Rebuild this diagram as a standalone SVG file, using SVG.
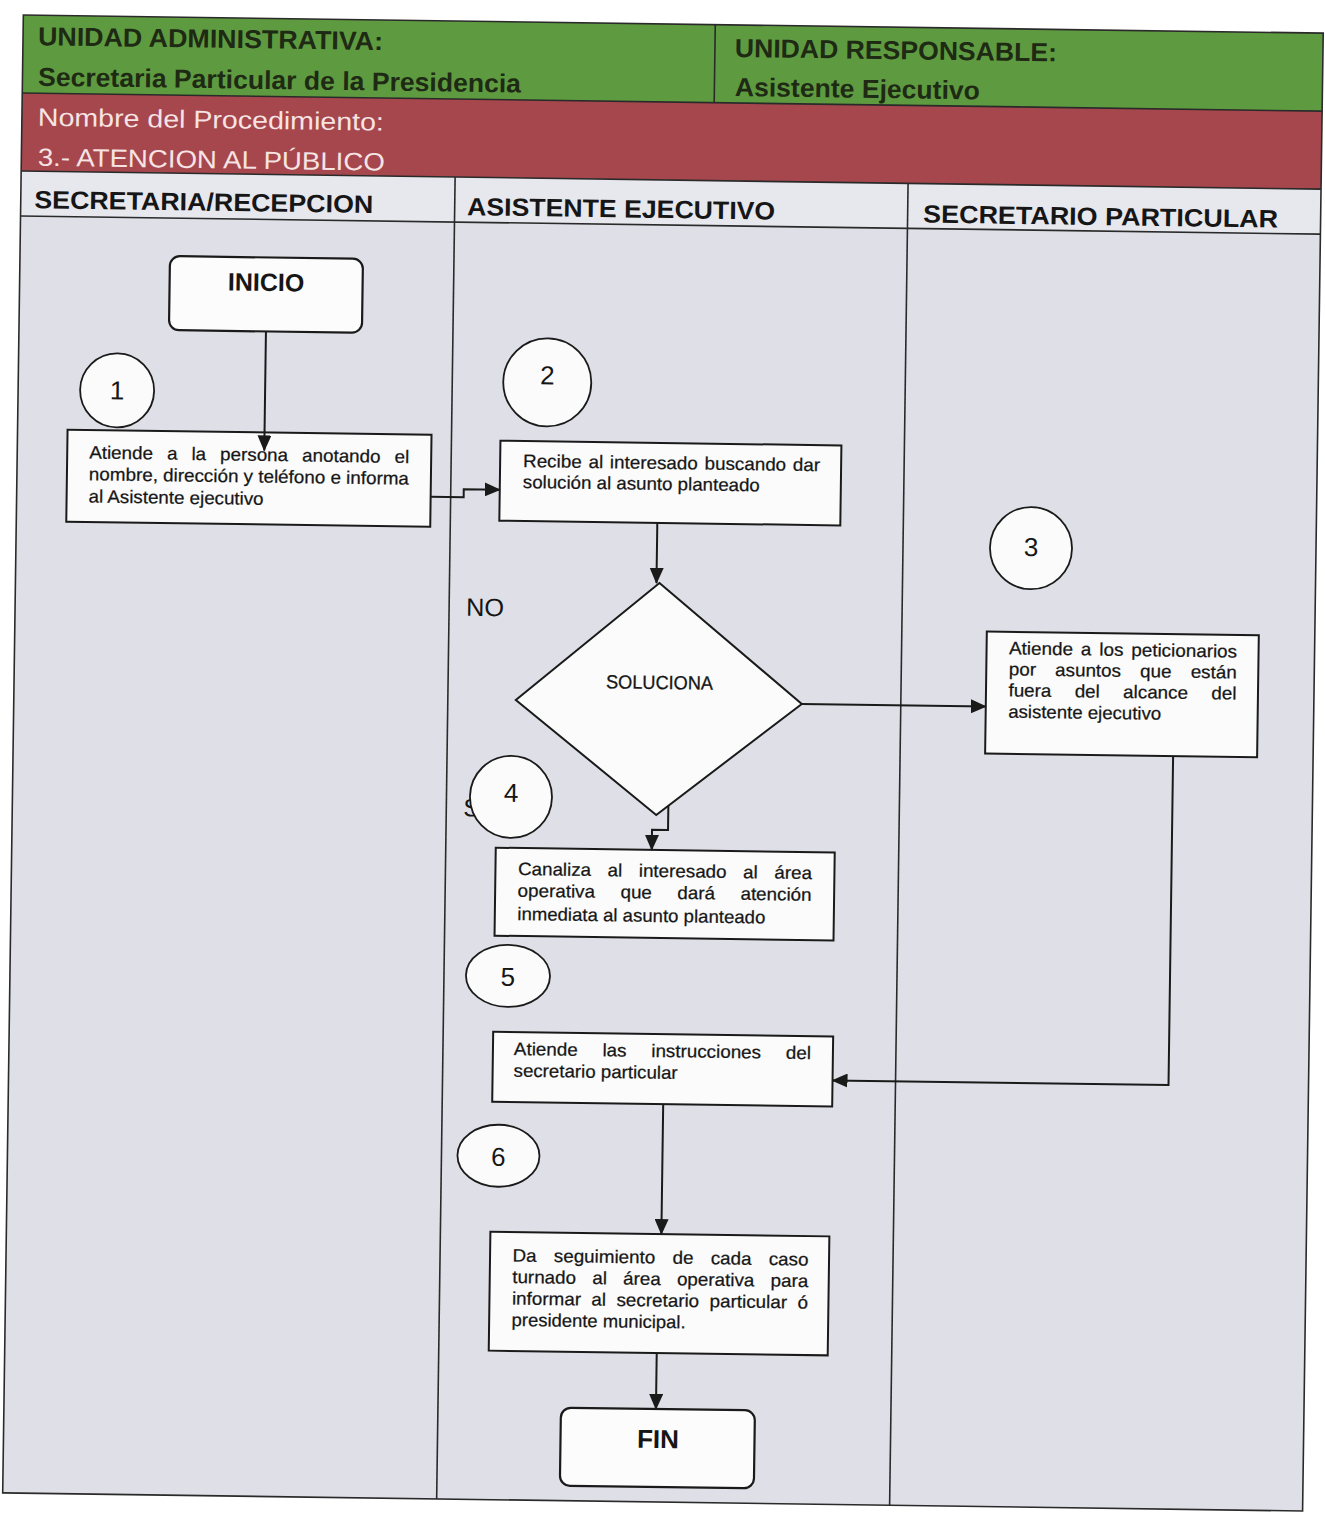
<svg xmlns="http://www.w3.org/2000/svg" width="1325" height="1520" viewBox="0 0 1325 1520">
<style>
.t{font-family:"Liberation Sans",Arial,Helvetica,sans-serif;fill:#161616}
.b{font-weight:bold}
.hd{font-size:26px;font-weight:bold;fill:#1e2a14}
.rd{font-size:25px;fill:#f6e4e4}
.ln{font-size:25px;font-weight:bold;fill:#161616}
.bt{font-size:18px;stroke:#161616;stroke-width:0.25}
.num{font-size:26px;text-anchor:middle}
.box{fill:#fbfbfb;stroke:#1a1a1a;stroke-width:2}
.term{fill:#fcfcfc;stroke:#1a1a1a;stroke-width:2.2}
.circ{fill:#fbfbfb;stroke:#1a1a1a;stroke-width:1.8}
.conn{fill:none;stroke:#1a1a1a;stroke-width:2}
.grid{fill:none;stroke:#2a2a2a;stroke-width:1.6}
</style>
<defs>
<marker id="ah" markerUnits="userSpaceOnUse" markerWidth="16" markerHeight="14" refX="15" refY="7" orient="auto">
<path d="M0,0 L16,7 L0,14 Z" fill="#1a1a1a"/>
</marker>
</defs>
<rect x="0" y="0" width="1325" height="1520" fill="#ffffff"/>
<g transform="rotate(0.8 662 760)">
<g id="frame">
<rect x="13" y="24" width="1300" height="78" fill="#5e9b40"/>
<rect x="13" y="102" width="1300" height="78" fill="#a6474d"/>
<rect x="13" y="180" width="1300" height="45" fill="#e7e8ee"/>
<rect x="13" y="225" width="1300" height="1277" fill="#dfe0e7"/>
<rect x="13" y="24" width="1300" height="1478" class="grid"/>
<line x1="13" y1="102" x2="1313" y2="102" class="grid"/>
<line x1="13" y1="180" x2="1313" y2="180" class="grid"/>
<line x1="13" y1="225" x2="1313" y2="225" class="grid"/>
<line x1="705" y1="24" x2="705" y2="102" class="grid"/>
<line x1="447" y1="180" x2="447" y2="1502" class="grid"/>
<line x1="900" y1="180" x2="900" y2="1502" class="grid"/>
<text class="t hd" x="28" y="54" textLength="345" lengthAdjust="spacingAndGlyphs">UNIDAD ADMINISTRATIVA:</text>
<text class="t hd" x="28.6" y="94.5" textLength="483" lengthAdjust="spacingAndGlyphs">Secretaria Particular de la Presidencia</text>
<text class="t hd" x="725" y="56" textLength="322" lengthAdjust="spacingAndGlyphs">UNIDAD RESPONSABLE:</text>
<text class="t hd" x="725.5" y="95" textLength="245" lengthAdjust="spacingAndGlyphs">Asistente Ejecutivo</text>
<text class="t rd" x="29" y="134.5" textLength="346" lengthAdjust="spacingAndGlyphs">Nombre del Procedimiento:</text>
<text class="t rd" x="29.5" y="174.5" textLength="347" lengthAdjust="spacingAndGlyphs">3.- ATENCION AL PÚBLICO</text>
<text class="t ln" x="26.5" y="217" textLength="339" lengthAdjust="spacingAndGlyphs">SECRETARIA/RECEPCION</text>
<text class="t ln" x="459.5" y="218" textLength="308" lengthAdjust="spacingAndGlyphs">ASISTENTE EJECUTIVO</text>
<text class="t ln" x="915.5" y="219" textLength="355" lengthAdjust="spacingAndGlyphs">SECRETARIO PARTICULAR</text>
</g>
<g id="inicio">
<rect x="163" y="263" width="193" height="74" rx="10" class="term"/>
<text class="t b" x="259.5" y="296.5" font-size="25" text-anchor="middle">INICIO</text>
</g>
<g id="paso1">
<circle cx="112" cy="398" r="37" class="circ"/>
<text class="t num" x="112" y="407">1</text>
</g>
<g id="tarea1">
<rect x="63" y="438" width="364" height="92" class="box"/>
<text class="t bt" x="85" y="466.5" textLength="320" lengthAdjust="spacingAndGlyphs" style="word-spacing:8.4px">Atiende a la persona anotando el</text>
<text class="t bt" x="85" y="488.2" textLength="320" lengthAdjust="spacingAndGlyphs">nombre, dirección y teléfono e informa</text>
<text class="t bt" x="85" y="510.5" textLength="175" lengthAdjust="spacingAndGlyphs">al Asistente ejecutivo</text>
</g>
<g id="paso2">
<circle cx="542" cy="384" r="44" class="circ"/>
<text class="t num" x="542" y="386">2</text>
</g>
<g id="tarea2">
<rect x="496" y="443" width="341" height="80" class="box"/>
<text class="t bt" x="519" y="469" textLength="297" lengthAdjust="spacingAndGlyphs" style="word-spacing:1.5px">Recibe al interesado buscando dar</text>
<text class="t bt" x="519" y="490" textLength="237" lengthAdjust="spacingAndGlyphs">solución al asunto planteado</text>
</g>
<g id="decision">
<polygon points="657,583 801,702 657,815 515,702" class="box"/>
<text class="t" x="658.5" y="689" font-size="19" text-anchor="middle" textLength="107" lengthAdjust="spacingAndGlyphs" stroke="#161616" stroke-width="0.3">SOLUCIONA</text>
<text class="t" x="464" y="618.5" font-size="25" textLength="38" lengthAdjust="spacingAndGlyphs">NO</text>
<text class="t" x="464" y="819" font-size="25">SI</text>
</g>
<g id="paso3">
<circle cx="1028" cy="543" r="41" class="circ"/>
<text class="t num" x="1028" y="551">3</text>
</g>
<g id="tarea3">
<rect x="985" y="627" width="272" height="122" class="box"/>
<text class="t bt" x="1007.5" y="649.5" textLength="228" lengthAdjust="spacingAndGlyphs" style="word-spacing:2.6px">Atiende a los peticionarios</text>
<text class="t bt" x="1007.5" y="670.5" textLength="228" lengthAdjust="spacingAndGlyphs" style="word-spacing:13.3px">por asuntos que están</text>
<text class="t bt" x="1007.5" y="691.5" textLength="228" lengthAdjust="spacingAndGlyphs" style="word-spacing:17.3px">fuera del alcance del</text>
<text class="t bt" x="1007.5" y="712.8" textLength="153" lengthAdjust="spacingAndGlyphs">asistente ejecutivo</text>
</g>
<g id="paso4">
<circle cx="511.5" cy="799" r="41" class="circ"/>
<text class="t num" x="511.5" y="804">4</text>
</g>
<g id="tarea4">
<rect x="497" y="850" width="339" height="88" class="box"/>
<text class="t bt" x="519.5" y="877" textLength="294" lengthAdjust="spacingAndGlyphs" style="word-spacing:10.8px">Canaliza al interesado al área</text>
<text class="t bt" x="519.5" y="898.7" textLength="294" lengthAdjust="spacingAndGlyphs" style="word-spacing:19.4px">operativa que dará atención</text>
<text class="t bt" x="519.5" y="922" textLength="248" lengthAdjust="spacingAndGlyphs">inmediata al asunto planteado</text>
</g>
<g id="paso5">
<ellipse cx="511" cy="978" rx="42" ry="31" class="circ"/>
<text class="t num" x="511" y="988">5</text>
</g>
<g id="tarea5">
<rect x="497" y="1034" width="340" height="70" class="box"/>
<text class="t bt" x="518" y="1057" textLength="297" lengthAdjust="spacingAndGlyphs" style="word-spacing:18.7px">Atiende las instrucciones del</text>
<text class="t bt" x="518" y="1078.7" textLength="164" lengthAdjust="spacingAndGlyphs">secretario particular</text>
</g>
<g id="paso6">
<ellipse cx="504" cy="1158" rx="41" ry="31" class="circ"/>
<text class="t num" x="504" y="1168">6</text>
</g>
<g id="tarea6">
<rect x="497" y="1234" width="339" height="119" class="box"/>
<text class="t bt" x="519.5" y="1263.5" textLength="296" lengthAdjust="spacingAndGlyphs" style="word-spacing:11.5px">Da seguimiento de cada caso</text>
<text class="t bt" x="519.5" y="1285" textLength="296" lengthAdjust="spacingAndGlyphs" style="word-spacing:10.5px">turnado al área operativa para</text>
<text class="t bt" x="519.5" y="1306.5" textLength="296" lengthAdjust="spacingAndGlyphs" style="word-spacing:5px">informar al secretario particular ó</text>
<text class="t bt" x="519.5" y="1328" textLength="174" lengthAdjust="spacingAndGlyphs">presidente municipal.</text>
</g>
<g id="fin">
<rect x="570" y="1409" width="194" height="78" rx="10" class="term"/>
<text class="t b" x="667.5" y="1448" font-size="26" text-anchor="middle">FIN</text>
</g>
<g id="connectors">
<line x1="260" y1="337" x2="260" y2="456" class="conn" marker-end="url(#ah)"/>
<path d="M427 500 H460 V492 H496" class="conn" marker-end="url(#ah)"/>
<line x1="654" y1="523" x2="654" y2="583" class="conn" marker-end="url(#ah)"/>
<line x1="801" y1="702" x2="985" y2="702" class="conn" marker-end="url(#ah)"/>
<path d="M669 806 V830 H653 V850" class="conn" marker-end="url(#ah)"/>
<path d="M1173 749 V1078 H837" class="conn" marker-end="url(#ah)"/>
<line x1="668" y1="1104" x2="668" y2="1234" class="conn" marker-end="url(#ah)"/>
<line x1="665" y1="1353" x2="665" y2="1409" class="conn" marker-end="url(#ah)"/>
</g>
</g>
</svg>
